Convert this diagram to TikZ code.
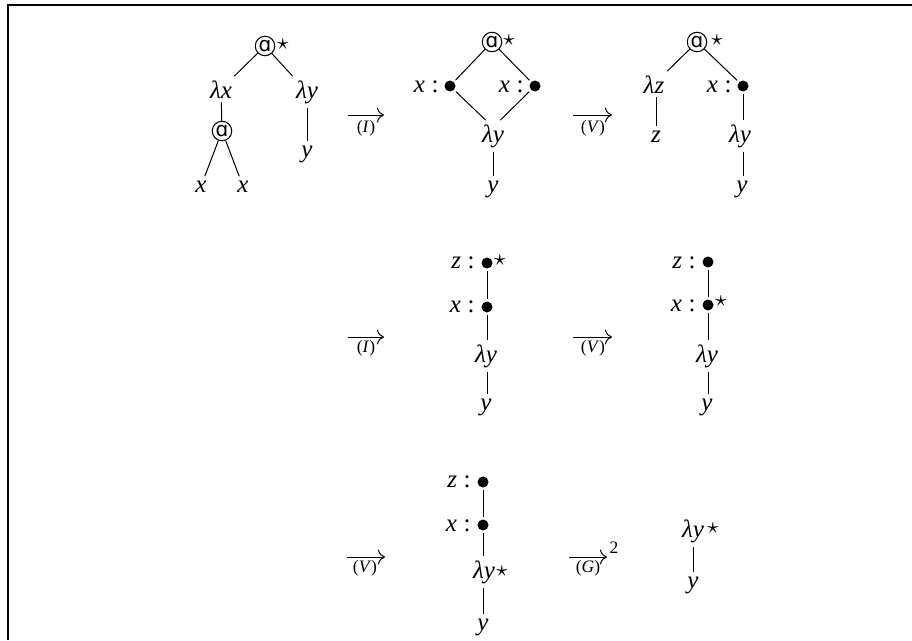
\documentclass[tikz,border=0pt]{standalone}
\usepackage{fontspec}
\setmainfont{Liberation Serif}[ItalicFont={Liberation Serif Italic}]
\newfontfamily\dejavu{DejaVu Sans}
\usetikzlibrary{arrows.meta}
\newcommand{\vc}[1]{\textit{#1}\hspace{2.6pt}\textup{:}}
\begin{document}
\begin{tikzpicture}[x=0.4pt,y=-0.4pt,
  txt/.style={anchor=base,inner sep=1.5pt,font=\itshape},
  dot/.style={circle,fill,inner sep=0pt,minimum size=4.4pt,outer sep=1pt},
  vlab/.style={anchor=base east,inner sep=0pt},
  app/.style={circle,draw,line width=0.4pt,inner sep=0pt,minimum size=7.8pt,font=\dejavu\footnotesize},
  st/.style={inner sep=0pt,font=\small},
  ln/.style={line width=0.4pt},
  rarr/.style={line width=0.4pt,-{To[scale=1.15]}},
  rl/.style={inner sep=0pt,font=\scriptsize}]
\useasboundingbox (0,0) rectangle (912,640);
% frame (top and left edges)
\draw[line width=0.8pt] (8,640) -- (8,5) -- (912,5);

% ---------- tree 1 ----------
\node[app] (t1r) at (265,46) {ɑ};
\node[st] (t1s) at (283,44) {$\star$};
\node[txt] (t1lx) at (221,98) {λx};
\node[txt] (t1ly) at (307,98) {λy};
\node[app] (t1a) at (222,131) {ɑ};
\node[txt] (t1x1) at (201,192) {x};
\node[txt] (t1x2) at (243,192) {x};
\node[txt] (t1y) at (307,157) {y};
\draw[ln] (t1r) -- (t1lx);
\draw[ln] (t1r) -- (t1ly);
\draw[ln] (t1lx) -- (t1a);
\draw[ln] (t1a) -- (t1x1);
\draw[ln] (t1a) -- (t1x2);
\draw[ln] (t1y.north |- t1ly.south) -- (t1y.north);

% arrow 1
\coordinate (a1s) at (348,115); \coordinate (a1e) at (384,115);
\draw[rarr] (a1s) -- (a1e);
\node[rl] (a1l) at (366,128) {(\textit{I})};

% ---------- tree 2 ----------
\node[app] (t2r) at (492,42) {ɑ};
\node[st] (t2s) at (509,40) {$\star$};
\node[dot] (t2b1) at (450,86) {};
\node[vlab] (t2l1) at (439,92) {\vc{x}};
\node[dot] (t2b2) at (535,86) {};
\node[vlab] (t2l2) at (524,92) {\vc{x}};
\node[txt] (t2ly) at (493,142) {λy};
\node[txt] (t2y) at (493,192) {y};
\draw[ln] (t2r) -- (t2b1);
\draw[ln] (t2r) -- (t2b2);
\draw[ln] (t2b1) -- (t2ly.115);
\draw[ln] (t2b2) -- (t2ly.65);
\draw[ln] (t2y.north |- t2ly.south) -- (t2y.north);

% arrow 2
\coordinate (a2s) at (573,115); \coordinate (a2e) at (612,115);
\draw[rarr] (a2s) -- (a2e);
\node[rl] (a2l) at (593,128) {(\textit{V})};

% ---------- tree 3 ----------
\node[app] (t3r) at (697,42) {ɑ};
\node[st] (t3s) at (717,40) {$\star$};
\node[txt] (t3lz) at (654,93) {λz};
\node[txt] (t3z) at (656,142) {z};
\node[dot] (t3b) at (743,86) {};
\node[vlab] (t3l) at (732,92) {\vc{x}};
\node[txt] (t3ly) at (740,142) {λy};
\node[txt] (t3y) at (742,192) {y};
\draw[ln] (t3r) -- (t3lz);
\draw[ln] (t3r) -- (t3b);
\draw[ln] (t3z.north |- t3lz.south) -- (t3z.north);
\draw[ln] (t3b) -- (t3b |- t3ly.north);
\draw[ln] (t3b |- t3ly.south) -- (t3b |- t3y.north);

% ---------- row 2 ----------
\coordinate (a3s) at (348,337); \coordinate (a3e) at (384,337);
\draw[rarr] (a3s) -- (a3e);
\node[rl] (a3l) at (366,348) {(\textit{I})};

\node[dot] (r2b1) at (487,263) {};
\node[st] (r2s1) at (500,260) {$\star$};
\node[vlab] (r2l1) at (475,268) {\vc{z}};
\node[dot] (r2b2) at (487,307) {};
\node[vlab] (r2l2) at (475,312) {\vc{x}};
\node[txt] (r2ly) at (486,362) {λy};
\node[txt] (r2y) at (486,410) {y};
\draw[ln] (r2b1) -- (r2b2);
\draw[ln] (r2b2) -- (r2b2 |- r2ly.north);
\draw[ln] (r2b2 |- r2ly.south) -- (r2b2 |- r2y.north);

\coordinate (a4s) at (573,337); \coordinate (a4e) at (612,337);
\draw[rarr] (a4s) -- (a4e);
\node[rl] (a4l) at (593,348) {(\textit{V})};

\node[dot] (r2c1) at (708,262) {};
\node[vlab] (r2m1) at (696,268) {\vc{z}};
\node[dot] (r2c2) at (708,305) {};
\node[st] (r2s2) at (721,301) {$\star$};
\node[vlab] (r2m2) at (696,311) {\vc{x}};
\node[txt] (r2ly2) at (707,362) {λy};
\node[txt] (r2y2) at (707,410) {y};
\draw[ln] (r2c1) -- (r2c2);
\draw[ln] (r2c2) -- (r2c2 |- r2ly2.north);
\draw[ln] (r2c2 |- r2ly2.south) -- (r2c2 |- r2y2.north);

% ---------- row 3 ----------
\coordinate (a5s) at (347,557); \coordinate (a5e) at (385,557);
\draw[rarr] (a5s) -- (a5e);
\node[rl] (a5l) at (365,568) {(\textit{V})};

\node[dot] (r3b1) at (483,482) {};
\node[vlab] (r3l1) at (471,487) {\vc{z}};
\node[dot] (r3b2) at (483,525) {};
\node[vlab] (r3l2) at (471,531) {\vc{x}};
\node[txt] (r3ly) at (484,578) {λy};
\node[st] (r3s) at (502,571) {$\star$};
\node[txt] (r3y) at (483,630) {y};
\draw[ln] (r3b1) -- (r3b2);
\draw[ln] (r3b2) -- (r3b2 |- r3ly.north);
\draw[ln] (r3b2 |- r3ly.south) -- (r3b2 |- r3y.north);

\coordinate (a6s) at (569,557); \coordinate (a6e) at (607,557);
\draw[rarr] (a6s) -- (a6e);
\node[rl] (a6l) at (588,568) {(\textit{G})};
\node[rl] (a6p) at (614,548) {2};

\node[txt] (r3ly2) at (693,537) {λy};
\node[st] (r3s2) at (713,528) {$\star$};
\node[txt] (r3y2) at (693,588) {y};
\draw[ln] (r3y2.north |- r3ly2.south) -- (r3y2.north);
\end{tikzpicture}
\end{document}
